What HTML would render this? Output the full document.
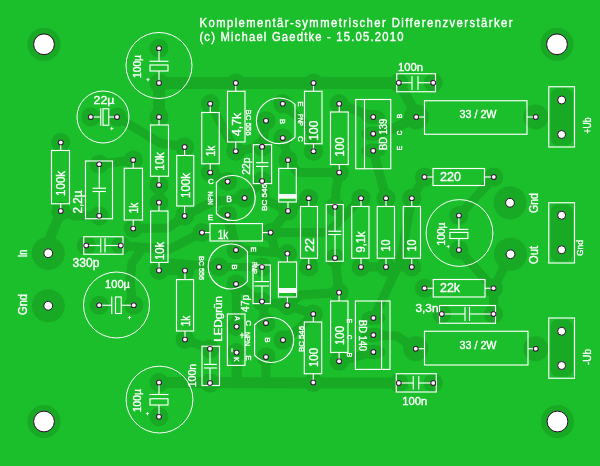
<!DOCTYPE html>
<html><head><meta charset="utf-8"><style>
html,body{margin:0;padding:0;background:#1abf2b;overflow:hidden;}
svg{display:block;will-change:transform;}
text{font-family:"Liberation Sans",sans-serif;stroke:#fff;stroke-width:0.35px;}
</style></head><body>
<svg width="600" height="466" viewBox="0 0 600 466">
<rect width="600" height="466" fill="#1abf2b"/>
<g fill="none" stroke="#18a925" stroke-linecap="round" stroke-linejoin="round">
<polyline points="159,83 398.75,83" stroke-width="12"/>
<polyline points="159,83 159,117" stroke-width="12"/>
<polyline points="398.75,82.75 410,103 416.25,117" stroke-width="10"/>
<polyline points="416.25,117 395,128 373.25,133.75" stroke-width="10"/>
<polyline points="159,382.5 398.75,383" stroke-width="11"/>
<polyline points="117,117 160,143 184.6,147" stroke-width="9"/>
<polyline points="99.25,164.25 133.25,160" stroke-width="9"/>
<polyline points="61,211 50,238 48.25,253.25" stroke-width="10"/>
<polyline points="133.25,228.5 168,228 184.6,216" stroke-width="9"/>
<polyline points="120.75,245.5 150,248 170,249 202,232.6" stroke-width="9"/>
<polyline points="142,249 132,263 130,280 132,299 133.75,305" stroke-width="9"/>
<polyline points="159,185 159,202.6" stroke-width="9"/>
<polyline points="159,270.4 185,270.6" stroke-width="9"/>
<polyline points="159,270.4 170,263 219,267" stroke-width="9"/>
<polyline points="210.25,103.75 235.75,151.25" stroke-width="9"/>
<polyline points="235.75,151.25 262.1,146.7" stroke-width="9"/>
<polyline points="266,120.75 262.1,146.7" stroke-width="9"/>
<polyline points="282.75,103.75 310,128 313.5,151.25" stroke-width="9"/>
<polyline points="282.75,138 288,160" stroke-width="9"/>
<polyline points="288,160 298,172.5 339.25,172.5" stroke-width="9"/>
<polyline points="339.25,172.5 336,190 335,206.75" stroke-width="9"/>
<polyline points="339.25,103.75 373.25,117" stroke-width="9"/>
<polyline points="373.25,150.75 386,198.25" stroke-width="9"/>
<polyline points="210.25,172.5 227.6,181.6" stroke-width="9"/>
<polyline points="244.6,198 262.1,181" stroke-width="9"/>
<polyline points="262.1,181 266,200 287.6,211" stroke-width="9"/>
<polyline points="270.6,232.6 287.6,211" stroke-width="9"/>
<polyline points="287.6,211 308.75,198.25" stroke-width="9"/>
<polyline points="424.5,177.5 411.75,198.25" stroke-width="9"/>
<polyline points="493.75,177.5 459,215.5" stroke-width="9"/>
<polyline points="459,250 493.5,288.25" stroke-width="9"/>
<polyline points="510.5,254.25 493.5,288.25 493.5,314" stroke-width="9"/>
<polyline points="361,267 411.75,267" stroke-width="9"/>
<polyline points="411.75,198.25 400,262 373.4,318" stroke-width="9"/>
<polyline points="415.75,348.75 397,336 373.4,335" stroke-width="9"/>
<polyline points="335,258 339,292.6" stroke-width="9"/>
<polyline points="339,292.6 300,295 287.4,305.4" stroke-width="9"/>
<polyline points="235.75,249.25 287.4,253.6" stroke-width="9"/>
<polyline points="270.6,232.6 275,251" stroke-width="9"/>
<polyline points="235.75,284 262,301.6" stroke-width="9"/>
<polyline points="262,301.6 287.4,305.4" stroke-width="9"/>
<polyline points="287.4,305.4 313.3,314" stroke-width="9"/>
<polyline points="270.6,232.6 328,232.6 361,198.25" stroke-width="9"/>
<polyline points="236.6,352.6 236.6,382.5" stroke-width="10"/>
<polyline points="266,357 266,382.5" stroke-width="9"/>
<polyline points="236.6,326.6 236,284" stroke-width="9"/>
<polyline points="266,323 262,301.6" stroke-width="9"/>
<polyline points="283,340 300,328 313.3,314" stroke-width="9"/>
<polyline points="185,339.5 210,348.75" stroke-width="9"/>
<polyline points="339,361.3 373.4,352" stroke-width="9"/>
<polyline points="219,267 262,267" stroke-width="8"/>
<polyline points="184.6,216 212,202 244.6,198" stroke-width="9"/>
<polyline points="227.6,215 236,249.3" stroke-width="10"/>
<polyline points="60.75,211 75,216 99.25,215.75" stroke-width="9"/>
</g>
<g fill="#18a925">
<circle cx="44" cy="44.3" r="16.6"/>
<circle cx="557" cy="44.3" r="16.6"/>
<circle cx="44" cy="421.5" r="16.6"/>
<circle cx="557.5" cy="421.5" r="16.6"/>
<circle cx="60.75" cy="142.5" r="9.5"/>
<circle cx="60.75" cy="211" r="9.5"/>
<circle cx="133.25" cy="160" r="9.5"/>
<circle cx="133.25" cy="228.5" r="9.5"/>
<circle cx="159" cy="117" r="9.5"/>
<circle cx="159" cy="185" r="9.5"/>
<circle cx="159" cy="202.6" r="9.5"/>
<circle cx="159" cy="270.4" r="9.5"/>
<circle cx="184.6" cy="147" r="9.5"/>
<circle cx="184.6" cy="216" r="9.5"/>
<circle cx="210.25" cy="103.75" r="9.5"/>
<circle cx="210.25" cy="172.5" r="9.5"/>
<circle cx="235.75" cy="83" r="9.5"/>
<circle cx="235.75" cy="151.25" r="9.5"/>
<circle cx="313.5" cy="83" r="9.5"/>
<circle cx="313.5" cy="151.25" r="9.5"/>
<circle cx="339.25" cy="103.75" r="9.5"/>
<circle cx="339.25" cy="172.5" r="9.5"/>
<circle cx="308.75" cy="198.25" r="9.5"/>
<circle cx="308.75" cy="267" r="9.5"/>
<circle cx="361" cy="198.25" r="9.5"/>
<circle cx="361" cy="267" r="9.5"/>
<circle cx="386" cy="198.25" r="9.5"/>
<circle cx="386" cy="267" r="9.5"/>
<circle cx="411.75" cy="198.25" r="9.5"/>
<circle cx="411.75" cy="267" r="9.5"/>
<circle cx="185" cy="270.6" r="9.5"/>
<circle cx="185" cy="339.5" r="9.5"/>
<circle cx="313.3" cy="314" r="9.5"/>
<circle cx="313.3" cy="382.5" r="9.5"/>
<circle cx="339.1" cy="292.6" r="9.5"/>
<circle cx="339.1" cy="361.3" r="9.5"/>
<circle cx="202" cy="232.6" r="9.5"/>
<circle cx="270.6" cy="232.6" r="9.5"/>
<circle cx="424.5" cy="177" r="9.5"/>
<circle cx="493.75" cy="177" r="9.5"/>
<circle cx="424.5" cy="288.25" r="9.5"/>
<circle cx="493.5" cy="288.25" r="9.5"/>
<circle cx="416.25" cy="117" r="12.5"/>
<circle cx="535.75" cy="117" r="12.5"/>
<circle cx="415.75" cy="348.75" r="12.5"/>
<circle cx="535.75" cy="348.75" r="12.5"/>
<circle cx="99.25" cy="164.25" r="9.5"/>
<circle cx="99.25" cy="215.75" r="9.5"/>
<circle cx="86.25" cy="245.5" r="9.5"/>
<circle cx="120.75" cy="245.5" r="9.5"/>
<circle cx="262.1" cy="146.7" r="9.5"/>
<circle cx="262.1" cy="181" r="9.5"/>
<circle cx="262" cy="267" r="9.5"/>
<circle cx="262" cy="301.6" r="9.5"/>
<circle cx="335" cy="206.75" r="9.5"/>
<circle cx="335" cy="258" r="9.5"/>
<circle cx="398.75" cy="82.75" r="9.5"/>
<circle cx="433.25" cy="82.75" r="9.5"/>
<circle cx="441.75" cy="314" r="9.5"/>
<circle cx="493.5" cy="314" r="9.5"/>
<circle cx="398.75" cy="383" r="9.5"/>
<circle cx="433.25" cy="383" r="9.5"/>
<circle cx="210" cy="348.75" r="9.5"/>
<circle cx="210" cy="383" r="9.5"/>
<circle cx="159" cy="48.25" r="9.5"/>
<circle cx="159" cy="83" r="9.5"/>
<circle cx="159" cy="382.5" r="9.5"/>
<circle cx="159" cy="416.75" r="9.5"/>
<circle cx="458.9" cy="215.5" r="9.5"/>
<circle cx="458.9" cy="250" r="9.5"/>
<circle cx="90.75" cy="117" r="9.5"/>
<circle cx="117" cy="117" r="9.5"/>
<circle cx="99.25" cy="305.25" r="9.5"/>
<circle cx="133.75" cy="305.25" r="9.5"/>
<circle cx="282.75" cy="103.75" r="9.5"/>
<circle cx="266" cy="120.75" r="9.5"/>
<circle cx="282.75" cy="138" r="9.5"/>
<circle cx="227.6" cy="181.6" r="9.5"/>
<circle cx="244.6" cy="198" r="9.5"/>
<circle cx="227.6" cy="215" r="9.5"/>
<circle cx="236" cy="250" r="9.5"/>
<circle cx="219" cy="267" r="9.5"/>
<circle cx="236" cy="284" r="9.5"/>
<circle cx="266" cy="323" r="9.5"/>
<circle cx="283" cy="340" r="9.5"/>
<circle cx="266" cy="357" r="9.5"/>
<circle cx="288" cy="160" r="9.5"/>
<circle cx="288" cy="211" r="9.5"/>
<circle cx="287.4" cy="253.6" r="9.5"/>
<circle cx="287.4" cy="305.4" r="9.5"/>
<ellipse cx="373.25" cy="117" rx="12" ry="7.2"/>
<ellipse cx="373.25" cy="133.75" rx="12" ry="7.2"/>
<ellipse cx="373.25" cy="150.75" rx="12" ry="7.2"/>
<ellipse cx="373.4" cy="318" rx="12" ry="7.2"/>
<ellipse cx="373.4" cy="335" rx="12" ry="7.2"/>
<ellipse cx="373.4" cy="352" rx="12" ry="7.2"/>
<circle cx="236.6" cy="326.6" r="9.5"/>
<circle cx="236.6" cy="352.6" r="9.5"/>
<circle cx="48.25" cy="253.25" r="16.5"/>
<circle cx="48.25" cy="305.75" r="16.5"/>
<circle cx="510" cy="202.75" r="16.5"/>
<circle cx="510.5" cy="254.25" r="16.5"/>
</g>
<g font-family="Liberation Sans, sans-serif" fill="#ffffff">
<text transform="translate(356,23) rotate(0) scale(0.9,1)" x="0" y="4.38" font-size="12.5" text-anchor="middle" style="stroke-width:0.4px" textLength="347.78" lengthAdjust="spacing">Komplementär-symmetrischer Differenzverstärker</text>
<text transform="translate(301.4,36.5) rotate(0) scale(0.9,1)" x="0" y="4.38" font-size="12.5" text-anchor="middle" style="stroke-width:0.4px" textLength="226.67" lengthAdjust="spacing">(c) Michael Gaedtke - 15.05.2010</text>
<rect x="51.5" y="150.5" width="18.0" height="53.25" fill="none" stroke="#ffffff" stroke-width="1.15"/>
<line x1="60.75" y1="142.5" x2="60.75" y2="150.5" stroke="#ffffff" stroke-width="1.15"/>
<line x1="60.75" y1="203.75" x2="60.75" y2="211" stroke="#ffffff" stroke-width="1.15"/>
<text transform="translate(60.5,183.4) rotate(-90)" x="0" y="4.55" font-size="13" text-anchor="middle" textLength="25.00" lengthAdjust="spacingAndGlyphs">100k</text>
<rect x="124.25" y="168.25" width="18.25" height="51.75" fill="none" stroke="#ffffff" stroke-width="1.15"/>
<line x1="133.25" y1="160" x2="133.25" y2="168.25" stroke="#ffffff" stroke-width="1.15"/>
<line x1="133.25" y1="220" x2="133.25" y2="228.5" stroke="#ffffff" stroke-width="1.15"/>
<text transform="translate(133.375,208) rotate(-90)" x="0" y="4.55" font-size="13" text-anchor="middle" textLength="10.50" lengthAdjust="spacingAndGlyphs">1k</text>
<rect x="150.5" y="125" width="18.0" height="51.25" fill="none" stroke="#ffffff" stroke-width="1.15"/>
<line x1="159" y1="117" x2="159" y2="125" stroke="#ffffff" stroke-width="1.15"/>
<line x1="159" y1="176.25" x2="159" y2="185" stroke="#ffffff" stroke-width="1.15"/>
<text transform="translate(159.5,161.5) rotate(-90)" x="0" y="4.55" font-size="13" text-anchor="middle" textLength="18.50" lengthAdjust="spacingAndGlyphs">10k</text>
<rect x="150.6" y="211" width="17.400000000000006" height="51.39999999999998" fill="none" stroke="#ffffff" stroke-width="1.15"/>
<line x1="159" y1="202.6" x2="159" y2="211" stroke="#ffffff" stroke-width="1.15"/>
<line x1="159" y1="262.4" x2="159" y2="270.4" stroke="#ffffff" stroke-width="1.15"/>
<text transform="translate(159.3,251) rotate(-90)" x="0" y="4.55" font-size="13" text-anchor="middle" textLength="18.00" lengthAdjust="spacingAndGlyphs">10k</text>
<rect x="176.75" y="155.5" width="17.0" height="50.5" fill="none" stroke="#ffffff" stroke-width="1.15"/>
<line x1="184.6" y1="147" x2="184.6" y2="155.5" stroke="#ffffff" stroke-width="1.15"/>
<line x1="184.6" y1="206" x2="184.6" y2="216" stroke="#ffffff" stroke-width="1.15"/>
<text transform="translate(185.25,185.5) rotate(-90)" x="0" y="4.55" font-size="13" text-anchor="middle" textLength="25.00" lengthAdjust="spacingAndGlyphs">100k</text>
<rect x="201.75" y="112.5" width="17.5" height="51.25" fill="none" stroke="#ffffff" stroke-width="1.15"/>
<line x1="210.25" y1="103.75" x2="210.25" y2="112.5" stroke="#ffffff" stroke-width="1.15"/>
<line x1="210.25" y1="163.75" x2="210.25" y2="172.5" stroke="#ffffff" stroke-width="1.15"/>
<text transform="translate(210.5,151) rotate(-90)" x="0" y="4.55" font-size="13" text-anchor="middle" textLength="10.50" lengthAdjust="spacingAndGlyphs">1k</text>
<rect x="227.5" y="91.25" width="17.5" height="50.75" fill="none" stroke="#ffffff" stroke-width="1.15"/>
<line x1="235.75" y1="83" x2="235.75" y2="91.25" stroke="#ffffff" stroke-width="1.15"/>
<line x1="235.75" y1="142" x2="235.75" y2="151.25" stroke="#ffffff" stroke-width="1.15"/>
<text transform="translate(236.25,124.5) rotate(-90)" x="0" y="4.55" font-size="13" text-anchor="middle" textLength="23.00" lengthAdjust="spacingAndGlyphs">4,7k</text>
<rect x="304.5" y="91.25" width="17.5" height="52.5" fill="none" stroke="#ffffff" stroke-width="1.15"/>
<line x1="313.5" y1="83" x2="313.5" y2="91.25" stroke="#ffffff" stroke-width="1.15"/>
<line x1="313.5" y1="143.75" x2="313.5" y2="151.25" stroke="#ffffff" stroke-width="1.15"/>
<text transform="translate(313.25,130.6) rotate(-90)" x="0" y="4.55" font-size="13" text-anchor="middle" textLength="20.00" lengthAdjust="spacingAndGlyphs">100</text>
<rect x="330.5" y="112" width="17.75" height="52.5" fill="none" stroke="#ffffff" stroke-width="1.15"/>
<line x1="339.25" y1="103.75" x2="339.25" y2="112" stroke="#ffffff" stroke-width="1.15"/>
<line x1="339.25" y1="164.5" x2="339.25" y2="172.5" stroke="#ffffff" stroke-width="1.15"/>
<text transform="translate(339.375,147) rotate(-90)" x="0" y="4.55" font-size="13" text-anchor="middle" textLength="19.50" lengthAdjust="spacingAndGlyphs">100</text>
<rect x="300.5" y="206.5" width="17.0" height="51.75" fill="none" stroke="#ffffff" stroke-width="1.15"/>
<line x1="308.75" y1="198.25" x2="308.75" y2="206.5" stroke="#ffffff" stroke-width="1.15"/>
<line x1="308.75" y1="258.25" x2="308.75" y2="267" stroke="#ffffff" stroke-width="1.15"/>
<text transform="translate(309.0,245) rotate(-90)" x="0" y="4.55" font-size="13" text-anchor="middle" textLength="14.00" lengthAdjust="spacingAndGlyphs">22</text>
<rect x="351.75" y="206.5" width="17.25" height="51.75" fill="none" stroke="#ffffff" stroke-width="1.15"/>
<line x1="361" y1="198.25" x2="361" y2="206.5" stroke="#ffffff" stroke-width="1.15"/>
<line x1="361" y1="258.25" x2="361" y2="267" stroke="#ffffff" stroke-width="1.15"/>
<text transform="translate(360.375,242) rotate(-90)" x="0" y="4.55" font-size="13" text-anchor="middle" textLength="21.00" lengthAdjust="spacingAndGlyphs">9,1k</text>
<rect x="377.25" y="206.5" width="17.25" height="51.75" fill="none" stroke="#ffffff" stroke-width="1.15"/>
<line x1="386" y1="198.25" x2="386" y2="206.5" stroke="#ffffff" stroke-width="1.15"/>
<line x1="386" y1="258.25" x2="386" y2="267" stroke="#ffffff" stroke-width="1.15"/>
<text transform="translate(385.875,245.5) rotate(-90)" x="0" y="4.55" font-size="13" text-anchor="middle" textLength="12.00" lengthAdjust="spacingAndGlyphs">10</text>
<rect x="403.25" y="206.5" width="17.25" height="51.75" fill="none" stroke="#ffffff" stroke-width="1.15"/>
<line x1="411.75" y1="198.25" x2="411.75" y2="206.5" stroke="#ffffff" stroke-width="1.15"/>
<line x1="411.75" y1="258.25" x2="411.75" y2="267" stroke="#ffffff" stroke-width="1.15"/>
<text transform="translate(411.875,245.5) rotate(-90)" x="0" y="4.55" font-size="13" text-anchor="middle" textLength="12.00" lengthAdjust="spacingAndGlyphs">10</text>
<rect x="176.5" y="279.6" width="17.099999999999994" height="51.39999999999998" fill="none" stroke="#ffffff" stroke-width="1.15"/>
<line x1="185" y1="270.6" x2="185" y2="279.6" stroke="#ffffff" stroke-width="1.15"/>
<line x1="185" y1="331" x2="185" y2="339.5" stroke="#ffffff" stroke-width="1.15"/>
<text transform="translate(185.05,321) rotate(-90)" x="0" y="4.55" font-size="13" text-anchor="middle" textLength="10.50" lengthAdjust="spacingAndGlyphs">1k</text>
<rect x="304.3" y="322" width="17.399999999999977" height="51.75" fill="none" stroke="#ffffff" stroke-width="1.15"/>
<line x1="313.3" y1="314" x2="313.3" y2="322" stroke="#ffffff" stroke-width="1.15"/>
<line x1="313.3" y1="373.75" x2="313.3" y2="382.5" stroke="#ffffff" stroke-width="1.15"/>
<text transform="translate(313.0,357.5) rotate(-90)" x="0" y="4.55" font-size="13" text-anchor="middle" textLength="19.00" lengthAdjust="spacingAndGlyphs">100</text>
<rect x="330.6" y="301" width="17.399999999999977" height="51.39999999999998" fill="none" stroke="#ffffff" stroke-width="1.15"/>
<line x1="339.1" y1="292.6" x2="339.1" y2="301" stroke="#ffffff" stroke-width="1.15"/>
<line x1="339.1" y1="352.4" x2="339.1" y2="361.3" stroke="#ffffff" stroke-width="1.15"/>
<text transform="translate(339.3,335.5) rotate(-90)" x="0" y="4.55" font-size="13" text-anchor="middle" textLength="19.00" lengthAdjust="spacingAndGlyphs">100</text>
<rect x="210" y="223.6" width="52.39999999999998" height="17.400000000000006" fill="none" stroke="#ffffff" stroke-width="1.15"/>
<line x1="202" y1="232.6" x2="210" y2="232.6" stroke="#ffffff" stroke-width="1.15"/>
<line x1="262.4" y1="232.6" x2="270.6" y2="232.6" stroke="#ffffff" stroke-width="1.15"/>
<text transform="translate(223,234.5) rotate(0)" x="0" y="4.55" font-size="13" text-anchor="middle" textLength="10.50" lengthAdjust="spacingAndGlyphs">1k</text>
<rect x="433" y="168.5" width="51.5" height="17.0" fill="none" stroke="#ffffff" stroke-width="1.15"/>
<line x1="424.5" y1="177" x2="433" y2="177" stroke="#ffffff" stroke-width="1.15"/>
<line x1="484.5" y1="177" x2="493.75" y2="177" stroke="#ffffff" stroke-width="1.15"/>
<text transform="translate(450.5,177.0) rotate(0)" x="0" y="4.20" font-size="12" text-anchor="middle" textLength="21.00" lengthAdjust="spacingAndGlyphs">220</text>
<rect x="433.25" y="279.5" width="51.75" height="17.5" fill="none" stroke="#ffffff" stroke-width="1.15"/>
<line x1="424.5" y1="288.25" x2="433.25" y2="288.25" stroke="#ffffff" stroke-width="1.15"/>
<line x1="485" y1="288.25" x2="493.5" y2="288.25" stroke="#ffffff" stroke-width="1.15"/>
<text transform="translate(450,288.25) rotate(0)" x="0" y="4.20" font-size="12" text-anchor="middle" textLength="20.00" lengthAdjust="spacingAndGlyphs">22k</text>
<rect x="424.5" y="100.75" width="102.5" height="33.5" fill="none" stroke="#ffffff" stroke-width="1.15"/>
<line x1="416.25" y1="117" x2="424.5" y2="117" stroke="#ffffff" stroke-width="1.15"/>
<line x1="527" y1="117" x2="535.75" y2="117" stroke="#ffffff" stroke-width="1.15"/>
<text transform="translate(478,114) rotate(0)" x="0" y="3.67" font-size="10.5" text-anchor="middle" textLength="37.00" lengthAdjust="spacingAndGlyphs">33 / 2W</text>
<rect x="424.5" y="331.25" width="103.5" height="33.75" fill="none" stroke="#ffffff" stroke-width="1.15"/>
<line x1="415.75" y1="348.75" x2="424.5" y2="348.75" stroke="#ffffff" stroke-width="1.15"/>
<line x1="528" y1="348.75" x2="535.75" y2="348.75" stroke="#ffffff" stroke-width="1.15"/>
<text transform="translate(478,345) rotate(0)" x="0" y="3.67" font-size="10.5" text-anchor="middle" textLength="37.00" lengthAdjust="spacingAndGlyphs">33 / 2W</text>
<rect x="85.5" y="161" width="27.0" height="57.75" fill="none" stroke="#ffffff" stroke-width="1.15"/>
<line x1="99.25" y1="164.25" x2="99.25" y2="188.25" stroke="#ffffff" stroke-width="1.15"/>
<line x1="99.25" y1="191.5" x2="99.25" y2="215.75" stroke="#ffffff" stroke-width="1.15"/>
<line x1="92.5" y1="188.25" x2="106" y2="188.25" stroke="#ffffff" stroke-width="1.15"/>
<line x1="92.5" y1="191.5" x2="106" y2="191.5" stroke="#ffffff" stroke-width="1.15"/>
<text transform="translate(77.5,202) rotate(-90)" x="0" y="4.20" font-size="12" text-anchor="middle" textLength="23.00" lengthAdjust="spacingAndGlyphs">2,2µ</text>
<rect x="83.75" y="236.75" width="39.25" height="17.5" fill="none" stroke="#ffffff" stroke-width="1.15"/>
<line x1="86.25" y1="245.5" x2="100.75" y2="245.5" stroke="#ffffff" stroke-width="1.15"/>
<line x1="105" y1="245.5" x2="120.75" y2="245.5" stroke="#ffffff" stroke-width="1.15"/>
<line x1="100.75" y1="238" x2="100.75" y2="252.5" stroke="#ffffff" stroke-width="1.15"/>
<line x1="105" y1="238" x2="105" y2="252.5" stroke="#ffffff" stroke-width="1.15"/>
<text transform="translate(86,262.5) rotate(0)" x="0" y="4.20" font-size="12" text-anchor="middle" textLength="27.00" lengthAdjust="spacingAndGlyphs">330p</text>
<rect x="253.3" y="144.7" width="18.30000000000001" height="38.900000000000006" fill="none" stroke="#ffffff" stroke-width="1.15"/>
<line x1="262.1" y1="146.7" x2="262.1" y2="162.7" stroke="#ffffff" stroke-width="1.15"/>
<line x1="262.1" y1="166.4" x2="262.1" y2="181" stroke="#ffffff" stroke-width="1.15"/>
<line x1="256" y1="162.7" x2="268.4" y2="162.7" stroke="#ffffff" stroke-width="1.15"/>
<line x1="256" y1="166.4" x2="268.4" y2="166.4" stroke="#ffffff" stroke-width="1.15"/>
<text transform="translate(245.9,166.2) rotate(-90)" x="0" y="4.02" font-size="11.5" text-anchor="middle" textLength="17.30" lengthAdjust="spacingAndGlyphs">22p</text>
<rect x="253" y="265" width="17.399999999999977" height="38.60000000000002" fill="none" stroke="#ffffff" stroke-width="1.15"/>
<line x1="262" y1="267" x2="262" y2="281.6" stroke="#ffffff" stroke-width="1.15"/>
<line x1="262" y1="286" x2="262" y2="301.6" stroke="#ffffff" stroke-width="1.15"/>
<line x1="254.4" y1="281.6" x2="269" y2="281.6" stroke="#ffffff" stroke-width="1.15"/>
<line x1="254.4" y1="286" x2="269" y2="286" stroke="#ffffff" stroke-width="1.15"/>
<text transform="translate(245.4,303.4) rotate(-90)" x="0" y="4.02" font-size="11.5" text-anchor="middle" textLength="17.30" lengthAdjust="spacingAndGlyphs">47p</text>
<rect x="326.25" y="204.5" width="17.0" height="56.75" fill="none" stroke="#ffffff" stroke-width="1.15"/>
<line x1="335" y1="206.75" x2="335" y2="231.25" stroke="#ffffff" stroke-width="1.15"/>
<line x1="335" y1="234.5" x2="335" y2="258" stroke="#ffffff" stroke-width="1.15"/>
<line x1="328.25" y1="231.25" x2="341.25" y2="231.25" stroke="#ffffff" stroke-width="1.15"/>
<line x1="328.25" y1="234.5" x2="341.25" y2="234.5" stroke="#ffffff" stroke-width="1.15"/>
<rect x="396.75" y="73.75" width="38.75" height="18.0" fill="none" stroke="#ffffff" stroke-width="1.15"/>
<line x1="398.75" y1="82.75" x2="412" y2="82.75" stroke="#ffffff" stroke-width="1.15"/>
<line x1="418" y1="82.75" x2="433.25" y2="82.75" stroke="#ffffff" stroke-width="1.15"/>
<line x1="412" y1="76" x2="412" y2="90" stroke="#ffffff" stroke-width="1.15"/>
<line x1="418" y1="76" x2="418" y2="90" stroke="#ffffff" stroke-width="1.15"/>
<text transform="translate(410.5,67.5) rotate(0)" x="0" y="3.67" font-size="10.5" text-anchor="middle" textLength="25.00" lengthAdjust="spacingAndGlyphs">100n</text>
<rect x="439.5" y="305.5" width="56.0" height="17.75" fill="none" stroke="#ffffff" stroke-width="1.15"/>
<line x1="441.75" y1="314" x2="465" y2="314" stroke="#ffffff" stroke-width="1.15"/>
<line x1="469.5" y1="314" x2="493.5" y2="314" stroke="#ffffff" stroke-width="1.15"/>
<line x1="465" y1="307" x2="465" y2="321" stroke="#ffffff" stroke-width="1.15"/>
<line x1="469.5" y1="307" x2="469.5" y2="321" stroke="#ffffff" stroke-width="1.15"/>
<text transform="translate(427,308) rotate(0)" x="0" y="3.67" font-size="10.5" text-anchor="middle" textLength="23.00" lengthAdjust="spacingAndGlyphs">3,3n</text>
<rect x="396.25" y="373.75" width="40.0" height="18.25" fill="none" stroke="#ffffff" stroke-width="1.15"/>
<line x1="398.75" y1="383" x2="413.25" y2="383" stroke="#ffffff" stroke-width="1.15"/>
<line x1="418.75" y1="383" x2="433.25" y2="383" stroke="#ffffff" stroke-width="1.15"/>
<line x1="413.25" y1="376" x2="413.25" y2="389.5" stroke="#ffffff" stroke-width="1.15"/>
<line x1="418.75" y1="376" x2="418.75" y2="389.5" stroke="#ffffff" stroke-width="1.15"/>
<text transform="translate(414.75,401.5) rotate(0)" x="0" y="3.67" font-size="10.5" text-anchor="middle" textLength="25.00" lengthAdjust="spacingAndGlyphs">100n</text>
<rect x="202" y="346.25" width="17.5" height="39.25" fill="none" stroke="#ffffff" stroke-width="1.15"/>
<line x1="210" y1="348.75" x2="210" y2="364.4" stroke="#ffffff" stroke-width="1.15"/>
<line x1="210" y1="368" x2="210" y2="383" stroke="#ffffff" stroke-width="1.15"/>
<line x1="204" y1="364.4" x2="217" y2="364.4" stroke="#ffffff" stroke-width="1.15"/>
<line x1="204" y1="368" x2="217" y2="368" stroke="#ffffff" stroke-width="1.15"/>
<text transform="translate(192.5,375.5) rotate(-90)" x="0" y="3.67" font-size="10.5" text-anchor="middle" textLength="23.50" lengthAdjust="spacingAndGlyphs">100n</text>
<circle cx="159" cy="65.5" r="33" fill="none" stroke="#ffffff" stroke-width="1.0"/>
<line x1="159" y1="48.25" x2="159" y2="61.25" stroke="#ffffff" stroke-width="1.15"/>
<line x1="159" y1="71" x2="159" y2="83" stroke="#ffffff" stroke-width="1.15"/>
<line x1="149.5" y1="61.25" x2="168.5" y2="61.25" stroke="#ffffff" stroke-width="1.15"/>
<rect x="150.0" y="65" width="18.0" height="6" fill="none" stroke="#ffffff" stroke-width="1.15"/>
<text transform="translate(137.5,66.5) rotate(-90)" x="0" y="3.67" font-size="10.5" text-anchor="middle" textLength="23.00" lengthAdjust="spacingAndGlyphs">100µ</text>
<text transform="translate(148,79) rotate(0)" x="0" y="2.10" font-size="6" text-anchor="middle">+</text>
<circle cx="159.5" cy="399.6" r="33.4" fill="none" stroke="#ffffff" stroke-width="1.0"/>
<line x1="159" y1="382.5" x2="159" y2="394.5" stroke="#ffffff" stroke-width="1.15"/>
<line x1="159" y1="405" x2="159" y2="416.75" stroke="#ffffff" stroke-width="1.15"/>
<line x1="149.5" y1="394.5" x2="168.5" y2="394.5" stroke="#ffffff" stroke-width="1.15"/>
<rect x="150.0" y="398.75" width="18.0" height="6.25" fill="none" stroke="#ffffff" stroke-width="1.15"/>
<text transform="translate(137.5,400.6) rotate(-90)" x="0" y="3.67" font-size="10.5" text-anchor="middle" textLength="23.00" lengthAdjust="spacingAndGlyphs">100µ</text>
<text transform="translate(147.5,412.5) rotate(0)" x="0" y="2.10" font-size="6" text-anchor="middle">+</text>
<circle cx="459.5" cy="233" r="33.4" fill="none" stroke="#ffffff" stroke-width="1.0"/>
<line x1="458.9" y1="215.5" x2="458.9" y2="229.4" stroke="#ffffff" stroke-width="1.15"/>
<line x1="458.9" y1="238.5" x2="458.9" y2="250" stroke="#ffffff" stroke-width="1.15"/>
<line x1="449.4" y1="229.4" x2="468.4" y2="229.4" stroke="#ffffff" stroke-width="1.15"/>
<rect x="449.9" y="232.4" width="18.0" height="6.099999999999994" fill="none" stroke="#ffffff" stroke-width="1.15"/>
<text transform="translate(441,234) rotate(-90)" x="0" y="3.67" font-size="10.5" text-anchor="middle" textLength="23.00" lengthAdjust="spacingAndGlyphs">100µ</text>
<text transform="translate(448.2,245.8) rotate(0)" x="0" y="2.10" font-size="6" text-anchor="middle">+</text>
<circle cx="103" cy="117" r="26" fill="none" stroke="#ffffff" stroke-width="1.0"/>
<line x1="90.75" y1="117" x2="100.75" y2="117" stroke="#ffffff" stroke-width="1.15"/>
<line x1="108.75" y1="117" x2="117" y2="117" stroke="#ffffff" stroke-width="1.15"/>
<line x1="100.75" y1="108.25" x2="100.75" y2="125.75" stroke="#ffffff" stroke-width="1.15"/>
<rect x="103" y="108.75" width="5.75" height="16.5" fill="none" stroke="#ffffff" stroke-width="1.15"/>
<text transform="translate(104,100) rotate(0)" x="0" y="3.85" font-size="11" text-anchor="middle" textLength="21.00" lengthAdjust="spacingAndGlyphs">22µ</text>
<text transform="translate(111.75,128.25) rotate(0)" x="0" y="2.10" font-size="6" text-anchor="middle">+</text>
<circle cx="116.5" cy="305" r="33" fill="none" stroke="#ffffff" stroke-width="1.0"/>
<line x1="99.25" y1="305.25" x2="111.75" y2="305.25" stroke="#ffffff" stroke-width="1.15"/>
<line x1="121.25" y1="305.25" x2="133.75" y2="305.25" stroke="#ffffff" stroke-width="1.15"/>
<line x1="111.75" y1="296.5" x2="111.75" y2="314.0" stroke="#ffffff" stroke-width="1.15"/>
<rect x="115.5" y="297.0" width="5.75" height="16.5" fill="none" stroke="#ffffff" stroke-width="1.15"/>
<text transform="translate(117.5,284.5) rotate(0)" x="0" y="3.85" font-size="11" text-anchor="middle" textLength="25.00" lengthAdjust="spacingAndGlyphs">100µ</text>
<text transform="translate(129.5,317) rotate(0)" x="0" y="2.10" font-size="6" text-anchor="middle">+</text>
<path d="M295,104.36 A22.8,22.8 0 1 0 295,137.24 Z" fill="none" stroke="#ffffff" stroke-width="1.15"/>
<path d="M216.4,182.49 A22.5,22.5 0 1 1 216.4,213.51 Z" fill="none" stroke="#ffffff" stroke-width="1.15"/>
<path d="M247.5,251.53 A22.5,22.5 0 1 0 247.5,281.47 Z" fill="none" stroke="#ffffff" stroke-width="1.15"/>
<path d="M254.6,324.81 A22.5,22.5 0 1 1 254.6,355.19 Z" fill="none" stroke="#ffffff" stroke-width="1.15"/>
<text transform="translate(283,121.3) rotate(90)" x="0" y="2.80" font-size="8" text-anchor="middle">B</text>
<text transform="translate(301,104) rotate(90)" x="0" y="2.80" font-size="8" text-anchor="middle">E</text>
<text transform="translate(301,120) rotate(90)" x="0" y="2.80" font-size="8" text-anchor="middle" textLength="12.00" lengthAdjust="spacingAndGlyphs">PNP</text>
<text transform="translate(301,139) rotate(90)" x="0" y="2.80" font-size="8" text-anchor="middle">C</text>
<text transform="translate(249,122.5) rotate(90)" x="0" y="2.62" font-size="7.5" text-anchor="middle" textLength="26.00" lengthAdjust="spacingAndGlyphs">BC 556</text>
<text transform="translate(229,198.8) rotate(0)" x="0" y="2.97" font-size="8.5" text-anchor="middle">B</text>
<text transform="translate(209.8,198.2) rotate(-90)" x="0" y="2.80" font-size="8" text-anchor="middle" textLength="13.30" lengthAdjust="spacingAndGlyphs">NPN</text>
<text transform="translate(210.4,217.5) rotate(0)" x="0" y="2.80" font-size="8" text-anchor="middle">E</text>
<text transform="translate(211,181.4) rotate(0)" x="0" y="2.80" font-size="8" text-anchor="middle">C</text>
<text transform="translate(264,197.5) rotate(-90)" x="0" y="2.80" font-size="8" text-anchor="middle" textLength="27.00" lengthAdjust="spacingAndGlyphs">BC 546</text>
<text transform="translate(234.9,266.8) rotate(90)" x="0" y="2.80" font-size="8" text-anchor="middle">B</text>
<text transform="translate(254,249.4) rotate(90)" x="0" y="2.80" font-size="8" text-anchor="middle">E</text>
<text transform="translate(254.7,268) rotate(90)" x="0" y="2.80" font-size="8" text-anchor="middle" textLength="12.00" lengthAdjust="spacingAndGlyphs">PNP</text>
<text transform="translate(201.8,268) rotate(90)" x="0" y="2.62" font-size="7.5" text-anchor="middle" textLength="24.00" lengthAdjust="spacingAndGlyphs">BC 556</text>
<text transform="translate(267.8,340) rotate(90)" x="0" y="2.80" font-size="8" text-anchor="middle">B</text>
<text transform="translate(248.6,323.2) rotate(90)" x="0" y="2.80" font-size="8" text-anchor="middle">C</text>
<text transform="translate(248,339) rotate(90)" x="0" y="2.80" font-size="8" text-anchor="middle" textLength="14.00" lengthAdjust="spacingAndGlyphs">NPN</text>
<text transform="translate(248.6,358) rotate(90)" x="0" y="2.80" font-size="8" text-anchor="middle">E</text>
<text transform="translate(301.5,339) rotate(-90)" x="0" y="2.62" font-size="7.5" text-anchor="middle" textLength="26.00" lengthAdjust="spacingAndGlyphs">BC 546</text>
<rect x="278.7" y="168.4" width="17.600000000000023" height="33.599999999999994" fill="none" stroke="#ffffff" stroke-width="1.15"/>
<rect x="278.7" y="194" width="17.600000000000023" height="4.699999999999989" fill="#ffffff"/>
<line x1="288" y1="160" x2="288" y2="168.4" stroke="#ffffff" stroke-width="1.15"/>
<line x1="288" y1="202" x2="288" y2="211" stroke="#ffffff" stroke-width="1.15"/>
<rect x="278.4" y="262" width="18.200000000000045" height="35" fill="none" stroke="#ffffff" stroke-width="1.15"/>
<rect x="278.4" y="288" width="18.200000000000045" height="5" fill="#ffffff"/>
<line x1="287.4" y1="253.6" x2="287.4" y2="262" stroke="#ffffff" stroke-width="1.15"/>
<line x1="287.4" y1="297" x2="287.4" y2="305.4" stroke="#ffffff" stroke-width="1.15"/>
<rect x="355.75" y="99.5" width="35.0" height="69.25" fill="none" stroke="#ffffff" stroke-width="1.15"/>
<line x1="364.5" y1="99.5" x2="364.5" y2="168.75" stroke="#ffffff" stroke-width="1.15"/>
<text transform="translate(383.75,134.4) rotate(-90)" x="0" y="3.50" font-size="10" text-anchor="middle" textLength="31.00" lengthAdjust="spacingAndGlyphs">BD 139</text>
<text transform="translate(399.5,116) rotate(-90)" x="0" y="2.27" font-size="6.5" text-anchor="middle">B</text>
<text transform="translate(399.5,133) rotate(-90)" x="0" y="2.27" font-size="6.5" text-anchor="middle">C</text>
<text transform="translate(399.5,148) rotate(-90)" x="0" y="2.27" font-size="6.5" text-anchor="middle">E</text>
<rect x="355.4" y="301" width="34.60000000000002" height="68.39999999999998" fill="none" stroke="#ffffff" stroke-width="1.15"/>
<line x1="381.6" y1="301" x2="381.6" y2="369.4" stroke="#ffffff" stroke-width="1.15"/>
<text transform="translate(362.4,335.5) rotate(90)" x="0" y="3.50" font-size="10" text-anchor="middle" textLength="31.00" lengthAdjust="spacingAndGlyphs">BD 140</text>
<text transform="translate(349,321) rotate(90)" x="0" y="2.27" font-size="6.5" text-anchor="middle">E</text>
<text transform="translate(349,337) rotate(90)" x="0" y="2.27" font-size="6.5" text-anchor="middle">C</text>
<text transform="translate(349,355) rotate(90)" x="0" y="2.27" font-size="6.5" text-anchor="middle">B</text>
<rect x="227.4" y="314" width="17.599999999999994" height="51.39999999999998" fill="none" stroke="#ffffff" stroke-width="1.15"/>
<text transform="translate(237.4,318.5) rotate(90)" x="0" y="2.27" font-size="6.5" text-anchor="middle">A</text>
<text transform="translate(236.6,359.4) rotate(90)" x="0" y="2.27" font-size="6.5" text-anchor="middle">K</text>
<line x1="232" y1="348.3" x2="232" y2="352.3" stroke="#ffffff" stroke-width="1.2"/>
<line x1="242" y1="332.5" x2="242" y2="338.2" stroke="#ffffff" stroke-width="1.1"/>
<line x1="239.8" y1="335" x2="244.2" y2="335" stroke="#ffffff" stroke-width="1.1"/>
<text transform="translate(218.6,318.9) rotate(-90)" x="0" y="3.85" font-size="11" text-anchor="middle" textLength="45.50" lengthAdjust="spacingAndGlyphs">LEDgrün</text>
<rect x="550.35" y="88.35" width="22.55" height="57.05" rx="7.5" fill="#18a925"/>
<rect x="548.75" y="86.75" width="25.75" height="60.25" fill="none" stroke="#ffffff" stroke-width="1.15"/>
<rect x="550.35" y="204.35" width="22.55" height="57.05" rx="7.5" fill="#18a925"/>
<rect x="548.75" y="202.75" width="25.75" height="60.25" fill="none" stroke="#ffffff" stroke-width="1.15"/>
<rect x="550.35" y="319.6" width="22.55" height="57.05" rx="7.5" fill="#18a925"/>
<rect x="548.75" y="318" width="25.75" height="60.25" fill="none" stroke="#ffffff" stroke-width="1.15"/>
<text transform="translate(587,125.5) rotate(-90)" x="0" y="3.50" font-size="10" text-anchor="middle" textLength="16.00" lengthAdjust="spacingAndGlyphs">+Ub</text>
<text transform="translate(580,248) rotate(-90)" x="0" y="3.15" font-size="9" text-anchor="middle" textLength="16.00" lengthAdjust="spacingAndGlyphs">Gnd</text>
<text transform="translate(587.5,357) rotate(-90)" x="0" y="3.50" font-size="10" text-anchor="middle" textLength="16.00" lengthAdjust="spacingAndGlyphs">-Ub</text>
<text transform="translate(23.1,253.5) rotate(-90)" x="0" y="4.20" font-size="12" text-anchor="middle" textLength="7.50" lengthAdjust="spacingAndGlyphs">In</text>
<text transform="translate(22.5,304.5) rotate(-90)" x="0" y="4.20" font-size="12" text-anchor="middle" textLength="21.00" lengthAdjust="spacingAndGlyphs">Gnd</text>
<text transform="translate(533,203) rotate(-90)" x="0" y="4.55" font-size="13" text-anchor="middle" textLength="20.00" lengthAdjust="spacingAndGlyphs">Gnd</text>
<text transform="translate(533,255) rotate(-90)" x="0" y="4.55" font-size="13" text-anchor="middle" textLength="18.00" lengthAdjust="spacingAndGlyphs">Out</text>
</g>
<g fill="#ffffff" stroke="#300a30" stroke-width="0.9">
<circle cx="44" cy="44.3" r="10.4" stroke-width="1"/>
<circle cx="557" cy="44.3" r="10.4" stroke-width="1"/>
<circle cx="44" cy="421.5" r="10.4" stroke-width="1"/>
<circle cx="557.5" cy="421.5" r="10.4" stroke-width="1"/>
<circle cx="60.75" cy="142.5" r="2.85" fill="#1a0418" stroke="none"/><circle cx="60.75" cy="142.5" r="2.3" fill="#a040a0" stroke="none"/><circle cx="60.75" cy="142.5" r="1.8" fill="#fff" stroke="none"/>
<circle cx="60.75" cy="211" r="2.85" fill="#1a0418" stroke="none"/><circle cx="60.75" cy="211" r="2.3" fill="#a040a0" stroke="none"/><circle cx="60.75" cy="211" r="1.8" fill="#fff" stroke="none"/>
<circle cx="133.25" cy="160" r="2.85" fill="#1a0418" stroke="none"/><circle cx="133.25" cy="160" r="2.3" fill="#a040a0" stroke="none"/><circle cx="133.25" cy="160" r="1.8" fill="#fff" stroke="none"/>
<circle cx="133.25" cy="228.5" r="2.85" fill="#1a0418" stroke="none"/><circle cx="133.25" cy="228.5" r="2.3" fill="#a040a0" stroke="none"/><circle cx="133.25" cy="228.5" r="1.8" fill="#fff" stroke="none"/>
<circle cx="159" cy="117" r="2.85" fill="#1a0418" stroke="none"/><circle cx="159" cy="117" r="2.3" fill="#a040a0" stroke="none"/><circle cx="159" cy="117" r="1.8" fill="#fff" stroke="none"/>
<circle cx="159" cy="185" r="2.85" fill="#1a0418" stroke="none"/><circle cx="159" cy="185" r="2.3" fill="#a040a0" stroke="none"/><circle cx="159" cy="185" r="1.8" fill="#fff" stroke="none"/>
<circle cx="159" cy="202.6" r="2.85" fill="#1a0418" stroke="none"/><circle cx="159" cy="202.6" r="2.3" fill="#a040a0" stroke="none"/><circle cx="159" cy="202.6" r="1.8" fill="#fff" stroke="none"/>
<circle cx="159" cy="270.4" r="2.85" fill="#1a0418" stroke="none"/><circle cx="159" cy="270.4" r="2.3" fill="#a040a0" stroke="none"/><circle cx="159" cy="270.4" r="1.8" fill="#fff" stroke="none"/>
<circle cx="184.6" cy="147" r="2.85" fill="#1a0418" stroke="none"/><circle cx="184.6" cy="147" r="2.3" fill="#a040a0" stroke="none"/><circle cx="184.6" cy="147" r="1.8" fill="#fff" stroke="none"/>
<circle cx="184.6" cy="216" r="2.85" fill="#1a0418" stroke="none"/><circle cx="184.6" cy="216" r="2.3" fill="#a040a0" stroke="none"/><circle cx="184.6" cy="216" r="1.8" fill="#fff" stroke="none"/>
<circle cx="210.25" cy="103.75" r="2.85" fill="#1a0418" stroke="none"/><circle cx="210.25" cy="103.75" r="2.3" fill="#a040a0" stroke="none"/><circle cx="210.25" cy="103.75" r="1.8" fill="#fff" stroke="none"/>
<circle cx="210.25" cy="172.5" r="2.85" fill="#1a0418" stroke="none"/><circle cx="210.25" cy="172.5" r="2.3" fill="#a040a0" stroke="none"/><circle cx="210.25" cy="172.5" r="1.8" fill="#fff" stroke="none"/>
<circle cx="235.75" cy="83" r="2.85" fill="#1a0418" stroke="none"/><circle cx="235.75" cy="83" r="2.3" fill="#a040a0" stroke="none"/><circle cx="235.75" cy="83" r="1.8" fill="#fff" stroke="none"/>
<circle cx="235.75" cy="151.25" r="2.85" fill="#1a0418" stroke="none"/><circle cx="235.75" cy="151.25" r="2.3" fill="#a040a0" stroke="none"/><circle cx="235.75" cy="151.25" r="1.8" fill="#fff" stroke="none"/>
<circle cx="313.5" cy="83" r="2.85" fill="#1a0418" stroke="none"/><circle cx="313.5" cy="83" r="2.3" fill="#a040a0" stroke="none"/><circle cx="313.5" cy="83" r="1.8" fill="#fff" stroke="none"/>
<circle cx="313.5" cy="151.25" r="2.85" fill="#1a0418" stroke="none"/><circle cx="313.5" cy="151.25" r="2.3" fill="#a040a0" stroke="none"/><circle cx="313.5" cy="151.25" r="1.8" fill="#fff" stroke="none"/>
<circle cx="339.25" cy="103.75" r="2.85" fill="#1a0418" stroke="none"/><circle cx="339.25" cy="103.75" r="2.3" fill="#a040a0" stroke="none"/><circle cx="339.25" cy="103.75" r="1.8" fill="#fff" stroke="none"/>
<circle cx="339.25" cy="172.5" r="2.85" fill="#1a0418" stroke="none"/><circle cx="339.25" cy="172.5" r="2.3" fill="#a040a0" stroke="none"/><circle cx="339.25" cy="172.5" r="1.8" fill="#fff" stroke="none"/>
<circle cx="308.75" cy="198.25" r="2.85" fill="#1a0418" stroke="none"/><circle cx="308.75" cy="198.25" r="2.3" fill="#a040a0" stroke="none"/><circle cx="308.75" cy="198.25" r="1.8" fill="#fff" stroke="none"/>
<circle cx="308.75" cy="267" r="2.85" fill="#1a0418" stroke="none"/><circle cx="308.75" cy="267" r="2.3" fill="#a040a0" stroke="none"/><circle cx="308.75" cy="267" r="1.8" fill="#fff" stroke="none"/>
<circle cx="361" cy="198.25" r="2.85" fill="#1a0418" stroke="none"/><circle cx="361" cy="198.25" r="2.3" fill="#a040a0" stroke="none"/><circle cx="361" cy="198.25" r="1.8" fill="#fff" stroke="none"/>
<circle cx="361" cy="267" r="2.85" fill="#1a0418" stroke="none"/><circle cx="361" cy="267" r="2.3" fill="#a040a0" stroke="none"/><circle cx="361" cy="267" r="1.8" fill="#fff" stroke="none"/>
<circle cx="386" cy="198.25" r="2.85" fill="#1a0418" stroke="none"/><circle cx="386" cy="198.25" r="2.3" fill="#a040a0" stroke="none"/><circle cx="386" cy="198.25" r="1.8" fill="#fff" stroke="none"/>
<circle cx="386" cy="267" r="2.85" fill="#1a0418" stroke="none"/><circle cx="386" cy="267" r="2.3" fill="#a040a0" stroke="none"/><circle cx="386" cy="267" r="1.8" fill="#fff" stroke="none"/>
<circle cx="411.75" cy="198.25" r="2.85" fill="#1a0418" stroke="none"/><circle cx="411.75" cy="198.25" r="2.3" fill="#a040a0" stroke="none"/><circle cx="411.75" cy="198.25" r="1.8" fill="#fff" stroke="none"/>
<circle cx="411.75" cy="267" r="2.85" fill="#1a0418" stroke="none"/><circle cx="411.75" cy="267" r="2.3" fill="#a040a0" stroke="none"/><circle cx="411.75" cy="267" r="1.8" fill="#fff" stroke="none"/>
<circle cx="185" cy="270.6" r="2.85" fill="#1a0418" stroke="none"/><circle cx="185" cy="270.6" r="2.3" fill="#a040a0" stroke="none"/><circle cx="185" cy="270.6" r="1.8" fill="#fff" stroke="none"/>
<circle cx="185" cy="339.5" r="2.85" fill="#1a0418" stroke="none"/><circle cx="185" cy="339.5" r="2.3" fill="#a040a0" stroke="none"/><circle cx="185" cy="339.5" r="1.8" fill="#fff" stroke="none"/>
<circle cx="313.3" cy="314" r="2.85" fill="#1a0418" stroke="none"/><circle cx="313.3" cy="314" r="2.3" fill="#a040a0" stroke="none"/><circle cx="313.3" cy="314" r="1.8" fill="#fff" stroke="none"/>
<circle cx="313.3" cy="382.5" r="2.85" fill="#1a0418" stroke="none"/><circle cx="313.3" cy="382.5" r="2.3" fill="#a040a0" stroke="none"/><circle cx="313.3" cy="382.5" r="1.8" fill="#fff" stroke="none"/>
<circle cx="339.1" cy="292.6" r="2.85" fill="#1a0418" stroke="none"/><circle cx="339.1" cy="292.6" r="2.3" fill="#a040a0" stroke="none"/><circle cx="339.1" cy="292.6" r="1.8" fill="#fff" stroke="none"/>
<circle cx="339.1" cy="361.3" r="2.85" fill="#1a0418" stroke="none"/><circle cx="339.1" cy="361.3" r="2.3" fill="#a040a0" stroke="none"/><circle cx="339.1" cy="361.3" r="1.8" fill="#fff" stroke="none"/>
<circle cx="202" cy="232.6" r="2.85" fill="#1a0418" stroke="none"/><circle cx="202" cy="232.6" r="2.3" fill="#a040a0" stroke="none"/><circle cx="202" cy="232.6" r="1.8" fill="#fff" stroke="none"/>
<circle cx="270.6" cy="232.6" r="2.85" fill="#1a0418" stroke="none"/><circle cx="270.6" cy="232.6" r="2.3" fill="#a040a0" stroke="none"/><circle cx="270.6" cy="232.6" r="1.8" fill="#fff" stroke="none"/>
<circle cx="424.5" cy="177" r="2.85" fill="#1a0418" stroke="none"/><circle cx="424.5" cy="177" r="2.3" fill="#a040a0" stroke="none"/><circle cx="424.5" cy="177" r="1.8" fill="#fff" stroke="none"/>
<circle cx="493.75" cy="177" r="2.85" fill="#1a0418" stroke="none"/><circle cx="493.75" cy="177" r="2.3" fill="#a040a0" stroke="none"/><circle cx="493.75" cy="177" r="1.8" fill="#fff" stroke="none"/>
<circle cx="424.5" cy="288.25" r="2.85" fill="#1a0418" stroke="none"/><circle cx="424.5" cy="288.25" r="2.3" fill="#a040a0" stroke="none"/><circle cx="424.5" cy="288.25" r="1.8" fill="#fff" stroke="none"/>
<circle cx="493.5" cy="288.25" r="2.85" fill="#1a0418" stroke="none"/><circle cx="493.5" cy="288.25" r="2.3" fill="#a040a0" stroke="none"/><circle cx="493.5" cy="288.25" r="1.8" fill="#fff" stroke="none"/>
<circle cx="416.25" cy="117" r="2.85" fill="#1a0418" stroke="none"/><circle cx="416.25" cy="117" r="2.3" fill="#a040a0" stroke="none"/><circle cx="416.25" cy="117" r="1.8" fill="#fff" stroke="none"/>
<circle cx="535.75" cy="117" r="2.85" fill="#1a0418" stroke="none"/><circle cx="535.75" cy="117" r="2.3" fill="#a040a0" stroke="none"/><circle cx="535.75" cy="117" r="1.8" fill="#fff" stroke="none"/>
<circle cx="415.75" cy="348.75" r="2.85" fill="#1a0418" stroke="none"/><circle cx="415.75" cy="348.75" r="2.3" fill="#a040a0" stroke="none"/><circle cx="415.75" cy="348.75" r="1.8" fill="#fff" stroke="none"/>
<circle cx="535.75" cy="348.75" r="2.85" fill="#1a0418" stroke="none"/><circle cx="535.75" cy="348.75" r="2.3" fill="#a040a0" stroke="none"/><circle cx="535.75" cy="348.75" r="1.8" fill="#fff" stroke="none"/>
<circle cx="99.25" cy="164.25" r="2.85" fill="#1a0418" stroke="none"/><circle cx="99.25" cy="164.25" r="2.3" fill="#a040a0" stroke="none"/><circle cx="99.25" cy="164.25" r="1.8" fill="#fff" stroke="none"/>
<circle cx="99.25" cy="215.75" r="2.85" fill="#1a0418" stroke="none"/><circle cx="99.25" cy="215.75" r="2.3" fill="#a040a0" stroke="none"/><circle cx="99.25" cy="215.75" r="1.8" fill="#fff" stroke="none"/>
<circle cx="86.25" cy="245.5" r="2.85" fill="#1a0418" stroke="none"/><circle cx="86.25" cy="245.5" r="2.3" fill="#a040a0" stroke="none"/><circle cx="86.25" cy="245.5" r="1.8" fill="#fff" stroke="none"/>
<circle cx="120.75" cy="245.5" r="2.85" fill="#1a0418" stroke="none"/><circle cx="120.75" cy="245.5" r="2.3" fill="#a040a0" stroke="none"/><circle cx="120.75" cy="245.5" r="1.8" fill="#fff" stroke="none"/>
<circle cx="262.1" cy="146.7" r="2.85" fill="#1a0418" stroke="none"/><circle cx="262.1" cy="146.7" r="2.3" fill="#a040a0" stroke="none"/><circle cx="262.1" cy="146.7" r="1.8" fill="#fff" stroke="none"/>
<circle cx="262.1" cy="181" r="2.85" fill="#1a0418" stroke="none"/><circle cx="262.1" cy="181" r="2.3" fill="#a040a0" stroke="none"/><circle cx="262.1" cy="181" r="1.8" fill="#fff" stroke="none"/>
<circle cx="262" cy="267" r="2.85" fill="#1a0418" stroke="none"/><circle cx="262" cy="267" r="2.3" fill="#a040a0" stroke="none"/><circle cx="262" cy="267" r="1.8" fill="#fff" stroke="none"/>
<circle cx="262" cy="301.6" r="2.85" fill="#1a0418" stroke="none"/><circle cx="262" cy="301.6" r="2.3" fill="#a040a0" stroke="none"/><circle cx="262" cy="301.6" r="1.8" fill="#fff" stroke="none"/>
<circle cx="335" cy="206.75" r="2.85" fill="#1a0418" stroke="none"/><circle cx="335" cy="206.75" r="2.3" fill="#a040a0" stroke="none"/><circle cx="335" cy="206.75" r="1.8" fill="#fff" stroke="none"/>
<circle cx="335" cy="258" r="2.85" fill="#1a0418" stroke="none"/><circle cx="335" cy="258" r="2.3" fill="#a040a0" stroke="none"/><circle cx="335" cy="258" r="1.8" fill="#fff" stroke="none"/>
<circle cx="398.75" cy="82.75" r="2.85" fill="#1a0418" stroke="none"/><circle cx="398.75" cy="82.75" r="2.3" fill="#a040a0" stroke="none"/><circle cx="398.75" cy="82.75" r="1.8" fill="#fff" stroke="none"/>
<circle cx="433.25" cy="82.75" r="2.85" fill="#1a0418" stroke="none"/><circle cx="433.25" cy="82.75" r="2.3" fill="#a040a0" stroke="none"/><circle cx="433.25" cy="82.75" r="1.8" fill="#fff" stroke="none"/>
<circle cx="441.75" cy="314" r="2.85" fill="#1a0418" stroke="none"/><circle cx="441.75" cy="314" r="2.3" fill="#a040a0" stroke="none"/><circle cx="441.75" cy="314" r="1.8" fill="#fff" stroke="none"/>
<circle cx="493.5" cy="314" r="2.85" fill="#1a0418" stroke="none"/><circle cx="493.5" cy="314" r="2.3" fill="#a040a0" stroke="none"/><circle cx="493.5" cy="314" r="1.8" fill="#fff" stroke="none"/>
<circle cx="398.75" cy="383" r="2.85" fill="#1a0418" stroke="none"/><circle cx="398.75" cy="383" r="2.3" fill="#a040a0" stroke="none"/><circle cx="398.75" cy="383" r="1.8" fill="#fff" stroke="none"/>
<circle cx="433.25" cy="383" r="2.85" fill="#1a0418" stroke="none"/><circle cx="433.25" cy="383" r="2.3" fill="#a040a0" stroke="none"/><circle cx="433.25" cy="383" r="1.8" fill="#fff" stroke="none"/>
<circle cx="210" cy="348.75" r="2.85" fill="#1a0418" stroke="none"/><circle cx="210" cy="348.75" r="2.3" fill="#a040a0" stroke="none"/><circle cx="210" cy="348.75" r="1.8" fill="#fff" stroke="none"/>
<circle cx="210" cy="383" r="2.85" fill="#1a0418" stroke="none"/><circle cx="210" cy="383" r="2.3" fill="#a040a0" stroke="none"/><circle cx="210" cy="383" r="1.8" fill="#fff" stroke="none"/>
<circle cx="159" cy="48.25" r="2.85" fill="#1a0418" stroke="none"/><circle cx="159" cy="48.25" r="2.3" fill="#a040a0" stroke="none"/><circle cx="159" cy="48.25" r="1.8" fill="#fff" stroke="none"/>
<circle cx="159" cy="83" r="2.85" fill="#1a0418" stroke="none"/><circle cx="159" cy="83" r="2.3" fill="#a040a0" stroke="none"/><circle cx="159" cy="83" r="1.8" fill="#fff" stroke="none"/>
<circle cx="159" cy="382.5" r="2.85" fill="#1a0418" stroke="none"/><circle cx="159" cy="382.5" r="2.3" fill="#a040a0" stroke="none"/><circle cx="159" cy="382.5" r="1.8" fill="#fff" stroke="none"/>
<circle cx="159" cy="416.75" r="2.85" fill="#1a0418" stroke="none"/><circle cx="159" cy="416.75" r="2.3" fill="#a040a0" stroke="none"/><circle cx="159" cy="416.75" r="1.8" fill="#fff" stroke="none"/>
<circle cx="458.9" cy="215.5" r="2.85" fill="#1a0418" stroke="none"/><circle cx="458.9" cy="215.5" r="2.3" fill="#a040a0" stroke="none"/><circle cx="458.9" cy="215.5" r="1.8" fill="#fff" stroke="none"/>
<circle cx="458.9" cy="250" r="2.85" fill="#1a0418" stroke="none"/><circle cx="458.9" cy="250" r="2.3" fill="#a040a0" stroke="none"/><circle cx="458.9" cy="250" r="1.8" fill="#fff" stroke="none"/>
<circle cx="90.75" cy="117" r="2.85" fill="#1a0418" stroke="none"/><circle cx="90.75" cy="117" r="2.3" fill="#a040a0" stroke="none"/><circle cx="90.75" cy="117" r="1.8" fill="#fff" stroke="none"/>
<circle cx="117" cy="117" r="2.85" fill="#1a0418" stroke="none"/><circle cx="117" cy="117" r="2.3" fill="#a040a0" stroke="none"/><circle cx="117" cy="117" r="1.8" fill="#fff" stroke="none"/>
<circle cx="99.25" cy="305.25" r="2.85" fill="#1a0418" stroke="none"/><circle cx="99.25" cy="305.25" r="2.3" fill="#a040a0" stroke="none"/><circle cx="99.25" cy="305.25" r="1.8" fill="#fff" stroke="none"/>
<circle cx="133.75" cy="305.25" r="2.85" fill="#1a0418" stroke="none"/><circle cx="133.75" cy="305.25" r="2.3" fill="#a040a0" stroke="none"/><circle cx="133.75" cy="305.25" r="1.8" fill="#fff" stroke="none"/>
<circle cx="282.75" cy="103.75" r="2.85" fill="#1a0418" stroke="none"/><circle cx="282.75" cy="103.75" r="2.3" fill="#a040a0" stroke="none"/><circle cx="282.75" cy="103.75" r="1.8" fill="#fff" stroke="none"/>
<circle cx="266" cy="120.75" r="2.85" fill="#1a0418" stroke="none"/><circle cx="266" cy="120.75" r="2.3" fill="#a040a0" stroke="none"/><circle cx="266" cy="120.75" r="1.8" fill="#fff" stroke="none"/>
<circle cx="282.75" cy="138" r="2.85" fill="#1a0418" stroke="none"/><circle cx="282.75" cy="138" r="2.3" fill="#a040a0" stroke="none"/><circle cx="282.75" cy="138" r="1.8" fill="#fff" stroke="none"/>
<circle cx="227.6" cy="181.6" r="2.85" fill="#1a0418" stroke="none"/><circle cx="227.6" cy="181.6" r="2.3" fill="#a040a0" stroke="none"/><circle cx="227.6" cy="181.6" r="1.8" fill="#fff" stroke="none"/>
<circle cx="244.6" cy="198" r="2.85" fill="#1a0418" stroke="none"/><circle cx="244.6" cy="198" r="2.3" fill="#a040a0" stroke="none"/><circle cx="244.6" cy="198" r="1.8" fill="#fff" stroke="none"/>
<circle cx="227.6" cy="215" r="2.85" fill="#1a0418" stroke="none"/><circle cx="227.6" cy="215" r="2.3" fill="#a040a0" stroke="none"/><circle cx="227.6" cy="215" r="1.8" fill="#fff" stroke="none"/>
<circle cx="236" cy="250" r="2.85" fill="#1a0418" stroke="none"/><circle cx="236" cy="250" r="2.3" fill="#a040a0" stroke="none"/><circle cx="236" cy="250" r="1.8" fill="#fff" stroke="none"/>
<circle cx="219" cy="267" r="2.85" fill="#1a0418" stroke="none"/><circle cx="219" cy="267" r="2.3" fill="#a040a0" stroke="none"/><circle cx="219" cy="267" r="1.8" fill="#fff" stroke="none"/>
<circle cx="236" cy="284" r="2.85" fill="#1a0418" stroke="none"/><circle cx="236" cy="284" r="2.3" fill="#a040a0" stroke="none"/><circle cx="236" cy="284" r="1.8" fill="#fff" stroke="none"/>
<circle cx="266" cy="323" r="2.85" fill="#1a0418" stroke="none"/><circle cx="266" cy="323" r="2.3" fill="#a040a0" stroke="none"/><circle cx="266" cy="323" r="1.8" fill="#fff" stroke="none"/>
<circle cx="283" cy="340" r="2.85" fill="#1a0418" stroke="none"/><circle cx="283" cy="340" r="2.3" fill="#a040a0" stroke="none"/><circle cx="283" cy="340" r="1.8" fill="#fff" stroke="none"/>
<circle cx="266" cy="357" r="2.85" fill="#1a0418" stroke="none"/><circle cx="266" cy="357" r="2.3" fill="#a040a0" stroke="none"/><circle cx="266" cy="357" r="1.8" fill="#fff" stroke="none"/>
<circle cx="288" cy="160" r="2.85" fill="#1a0418" stroke="none"/><circle cx="288" cy="160" r="2.3" fill="#a040a0" stroke="none"/><circle cx="288" cy="160" r="1.8" fill="#fff" stroke="none"/>
<circle cx="288" cy="211" r="2.85" fill="#1a0418" stroke="none"/><circle cx="288" cy="211" r="2.3" fill="#a040a0" stroke="none"/><circle cx="288" cy="211" r="1.8" fill="#fff" stroke="none"/>
<circle cx="287.4" cy="253.6" r="2.85" fill="#1a0418" stroke="none"/><circle cx="287.4" cy="253.6" r="2.3" fill="#a040a0" stroke="none"/><circle cx="287.4" cy="253.6" r="1.8" fill="#fff" stroke="none"/>
<circle cx="287.4" cy="305.4" r="2.85" fill="#1a0418" stroke="none"/><circle cx="287.4" cy="305.4" r="2.3" fill="#a040a0" stroke="none"/><circle cx="287.4" cy="305.4" r="1.8" fill="#fff" stroke="none"/>
<circle cx="373.25" cy="117" r="2.85" fill="#1a0418" stroke="none"/><circle cx="373.25" cy="117" r="2.3" fill="#a040a0" stroke="none"/><circle cx="373.25" cy="117" r="1.8" fill="#fff" stroke="none"/>
<circle cx="373.25" cy="133.75" r="2.85" fill="#1a0418" stroke="none"/><circle cx="373.25" cy="133.75" r="2.3" fill="#a040a0" stroke="none"/><circle cx="373.25" cy="133.75" r="1.8" fill="#fff" stroke="none"/>
<circle cx="373.25" cy="150.75" r="2.85" fill="#1a0418" stroke="none"/><circle cx="373.25" cy="150.75" r="2.3" fill="#a040a0" stroke="none"/><circle cx="373.25" cy="150.75" r="1.8" fill="#fff" stroke="none"/>
<circle cx="373.4" cy="318" r="2.85" fill="#1a0418" stroke="none"/><circle cx="373.4" cy="318" r="2.3" fill="#a040a0" stroke="none"/><circle cx="373.4" cy="318" r="1.8" fill="#fff" stroke="none"/>
<circle cx="373.4" cy="335" r="2.85" fill="#1a0418" stroke="none"/><circle cx="373.4" cy="335" r="2.3" fill="#a040a0" stroke="none"/><circle cx="373.4" cy="335" r="1.8" fill="#fff" stroke="none"/>
<circle cx="373.4" cy="352" r="2.85" fill="#1a0418" stroke="none"/><circle cx="373.4" cy="352" r="2.3" fill="#a040a0" stroke="none"/><circle cx="373.4" cy="352" r="1.8" fill="#fff" stroke="none"/>
<circle cx="236.6" cy="326.6" r="2.85" fill="#1a0418" stroke="none"/><circle cx="236.6" cy="326.6" r="2.3" fill="#a040a0" stroke="none"/><circle cx="236.6" cy="326.6" r="1.8" fill="#fff" stroke="none"/>
<circle cx="236.6" cy="352.6" r="2.85" fill="#1a0418" stroke="none"/><circle cx="236.6" cy="352.6" r="2.3" fill="#a040a0" stroke="none"/><circle cx="236.6" cy="352.6" r="1.8" fill="#fff" stroke="none"/>
<circle cx="561.625" cy="100" r="4.0" stroke-width="1"/>
<circle cx="561.625" cy="134.5" r="4.0" stroke-width="1"/>
<circle cx="561.625" cy="215.25" r="4.0" stroke-width="1"/>
<circle cx="561.625" cy="249.75" r="4.0" stroke-width="1"/>
<circle cx="561.625" cy="331.25" r="4.0" stroke-width="1"/>
<circle cx="561.625" cy="365.5" r="4.0" stroke-width="1"/>
<circle cx="48.25" cy="253.25" r="4.4" stroke-width="1"/>
<circle cx="48.25" cy="305.75" r="4.4" stroke-width="1"/>
<circle cx="510" cy="202.75" r="4.4" stroke-width="1"/>
<circle cx="510.5" cy="254.25" r="4.4" stroke-width="1"/>
</g>
</svg>
</body></html>
